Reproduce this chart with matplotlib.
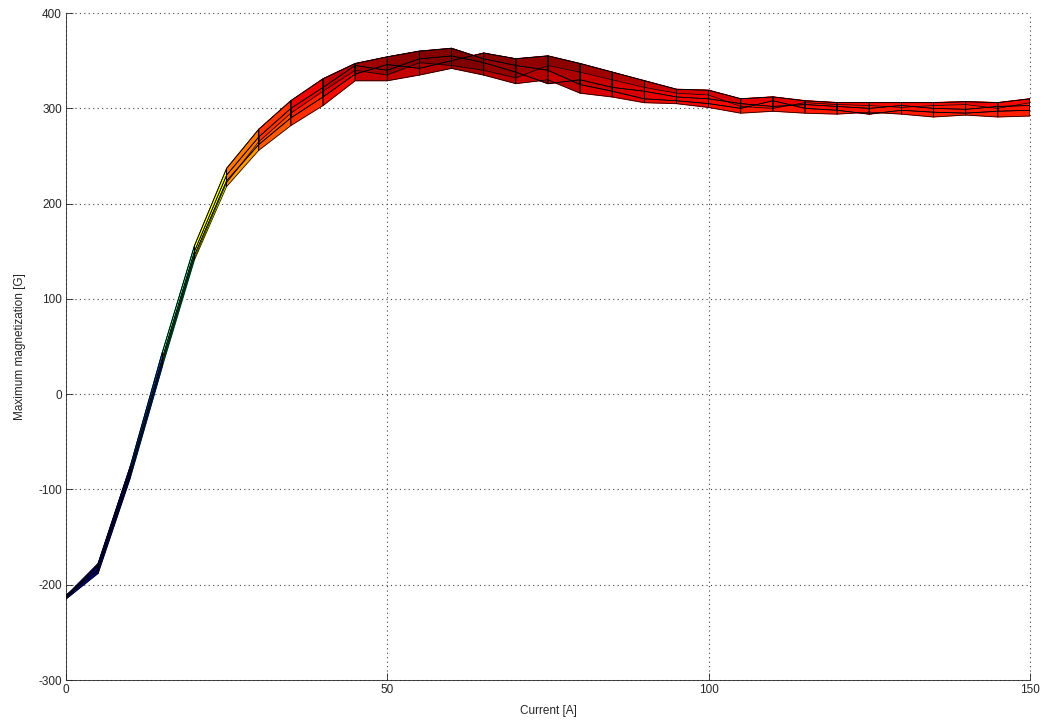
import numpy as np
import matplotlib
matplotlib.use("Agg")
import matplotlib.pyplot as plt
from matplotlib.collections import PolyCollection

plt.rcParams['font.family'] = ['Liberation Sans', 'DejaVu Sans']
plt.rcParams['axes.unicode_minus'] = False

# Current steps [A]
current = [0, 5, 10, 15, 20, 25, 30, 35, 40, 45, 50, 55, 60, 65, 70, 75,
           80, 85, 90, 95, 100, 105, 110, 115, 120, 125, 130, 135, 140, 145, 150]

# Maximum magnetization [G] for each measurement run
run_a = [-215, -188, -88, 29, 141, 218, 256, 282, 303, 329, 329, 335, 342, 335, 326, 330,
         316, 312, 306, 305, 301, 295, 297, 295, 294, 296, 294, 291, 293, 291, 292]
run_b = [-214, -180, -80, 38, 150, 230, 270, 300, 322, 345, 340, 352, 355, 348, 338, 326,
         330, 322, 318, 312, 310, 305, 302, 304, 302, 300, 303, 300, 299, 302, 303]
run_c = [-213, -184, -84, 34, 146, 224, 262, 290, 312, 336, 346, 342, 350, 358, 352, 355,
         347, 338, 329, 320, 319, 310, 312, 308, 306, 306, 306, 306, 307, 306, 310]
run_d = [-212, -178, -76, 44, 156, 237, 278, 308, 331, 347, 354, 360, 363, 352, 345, 340,
         325, 318, 310, 308, 305, 300, 308, 300, 298, 294, 298, 296, 295, 297, 298]
run_e = [-211, -185, -86, 31, 143, 222, 265, 295, 318, 340, 335, 348, 345, 340, 332, 345,
         338, 330, 322, 316, 314, 302, 300, 306, 304, 303, 301, 303, 304, 300, 306]

runs = [run_a, run_b, run_c, run_d, run_e]

x = np.asarray(current, dtype=float)
Z = np.asarray(runs, dtype=float)
zmin, zmax = Z.min(), Z.max()
cmap = plt.get_cmap('jet')

# Side view of the surface: one quad per pair of neighbouring runs and currents
polys, vals = [], []
for j in range(Z.shape[0] - 1):
    for i in range(len(x) - 1):
        polys.append([(x[i], Z[j, i]), (x[i + 1], Z[j, i + 1]),
                      (x[i + 1], Z[j + 1, i + 1]), (x[i], Z[j + 1, i])])
        vals.append(Z[j, i])
vals = np.asarray(vals)
colors = cmap((vals - zmin) / (zmax - zmin))

fig = plt.figure(figsize=(10.47, 7.27), dpi=100)
ax = fig.add_axes([0.063, 0.0646, 0.9207, 0.9174])

# filled faces first, then the mesh outline on top
faces = PolyCollection(polys, facecolors=colors, edgecolors=colors, linewidths=0.8, zorder=3)
ax.add_collection(faces)
mesh = PolyCollection(polys, facecolors='none', edgecolors='black', linewidths=0.5, zorder=4)
ax.add_collection(mesh)

ax.set_xlim(0, 150)
ax.set_ylim(-300, 400)
ax.set_xticks([0, 50, 100, 150])
ax.set_yticks(np.arange(-300, 401, 100))
ax.grid(True, linestyle=(0, (1, 3)), color='0.25', linewidth=0.8)
for gl in ax.get_xgridlines() + ax.get_ygridlines():
    gl.set_clip_on(False)
ax.tick_params(direction='in', length=5, width=0.6, labelsize=8.5,
               colors='0.15', pad=3)
ax.spines['top'].set_visible(False)
ax.spines['right'].set_visible(False)
for s in ('left', 'bottom'):
    ax.spines[s].set_linewidth(0.6)
    ax.spines[s].set_color('0.15')
ax.set_xlabel('Current [A]', fontsize=8.5, color='0.15', labelpad=6)
ax.set_ylabel('Maximum magnetization [G]', fontsize=8.5, color='0.15', labelpad=9)

fig.savefig('out.png', dpi=100)
